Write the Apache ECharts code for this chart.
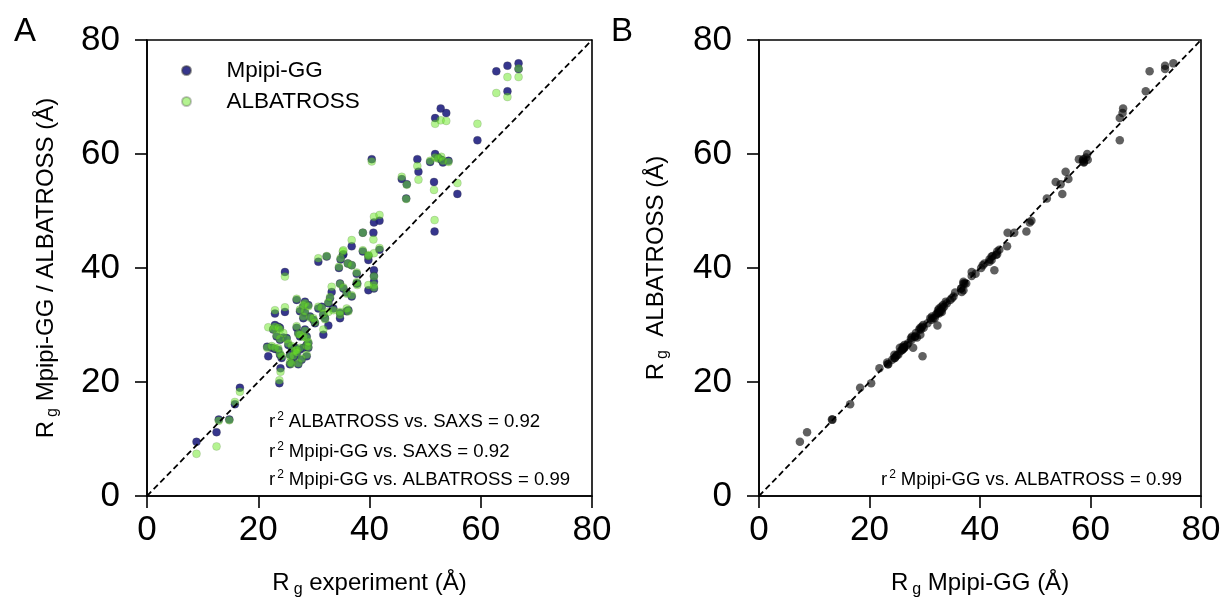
<!DOCTYPE html>
<html><head><meta charset="utf-8">
<script src="https://cdn.jsdelivr.net/npm/echarts@6/dist/echarts.min.js"></script>
<style>html,body{margin:0;padding:0;background:#fff}#c{width:1225px;height:603px}</style>
</head><body><div id="c"></div>
<script>
// ---- data ----
const axisTicks = [0, 20, 40, 60, 80];
const identityLine = [0, 80];
// experimental Rg (x of panel A)
const expRg = [8.9,12.5,12.9,14.8,15.8,16.7,23.8,24.0,21.8,21.6,
22.4,23.0,23.6,22.7,23.0,23.6,23.9,23.3,24.5,25.1,
23.9,23.9,24.2,24.8,23.0,24.8,25.4,26.0,26.6,26.9,
27.5,28.1,28.7,29.0,28.7,25.7,26.3,27.2,25.7,26.9,
27.8,26.0,26.9,27.2,27.5,28.4,28.7,29.0,29.3,29.9,
30.2,28.1,28.4,27.5,26.9,28.4,28.1,29.0,31.7,32.0,
31.7,32.6,32.9,32.6,31.4,30.8,33.5,34.7,35.9,36.2,
34.7,30.8,32.3,35.2,35.3,34.8,36.1,36.8,34.5,37.7,
37.7,39.8,40.8,40.8,40.8,40.8,39.8,33.2,34.7,35.3,
35.9,36.8,37.8,36.8,38.8,38.8,41.8,40.7,40.8,41.8,
39.8,45.8,46.7,46.6,48.6,48.8,40.4,50.9,51.8,52.3,
52.9,53.2,54.2,51.6,55.8,51.7,51.8,52.8,53.8,59.4,
62.8,64.8,64.8,66.8,66.8];
// blue points ("Mpipi-GG" in the legend of panel A)
const mpipiRg = [9.5,11.2,13.4,13.4,16.1,19.0,19.8,22.4,24.5,26.2,
26.0,25.8,25.6,29.2,30.0,29.7,29.5,28.0,27.8,27.7,
27.4,24.8,24.2,32.3,32.0,39.3,26.5,26.0,26.0,25.4,
25.7,26.0,26.5,26.0,24.5,24.8,24.2,23.1,23.1,24.8,
23.9,23.4,29.5,28.6,28.0,29.2,28.0,26.8,31.5,30.9,
30.3,31.2,32.1,32.4,34.4,34.1,33.2,33.5,31.8,31.2,
28.3,29.9,34.7,33.8,33.2,32.9,32.9,31.2,32.4,32.6,
32.1,41.1,42.0,42.3,42.4,41.5,40.8,40.5,40.0,39.0,
37.3,41.4,39.6,38.6,37.6,36.4,36.1,35.8,37.3,36.4,
35.7,35.0,37.3,43.8,46.2,42.9,43.2,46.2,48.0,48.3,
42.1,55.6,54.7,52.2,59.1,56.9,59.1,58.6,60.0,59.4,
59.0,58.5,58.8,55.1,53.0,46.4,66.3,68.0,67.2,62.4,
74.5,71.0,75.5,75.9,74.9];
// green points ("ALBATROSS" in the legend of panel A)
const albatrossRg = [7.4,8.7,13.2,13.3,16.5,18.3,20.3,21.8,29.6,26.0,
26.3,26.0,25.9,29.3,29.7,29.5,29.2,28.2,28.6,27.5,
27.6,25.0,24.5,33.1,32.6,38.5,26.8,26.3,25.5,25.6,
26.0,27.9,26.3,26.2,24.8,24.5,24.6,23.3,23.4,25.2,
24.1,23.2,29.8,28.4,28.3,29.0,27.7,27.0,31.3,31.2,
30.5,31.5,32.4,32.7,34.6,33.8,33.5,33.3,32.0,31.0,
29.2,32.3,34.9,34.0,33.0,33.2,32.6,31.8,32.9,32.4,
32.3,41.7,42.1,42.9,43.1,41.7,40.8,40.5,40.2,39.2,
37.5,42.1,42.6,38.5,37.0,36.6,37.0,36.7,37.2,36.6,
35.5,35.2,37.0,44.9,46.2,43.1,43.5,45.0,49.0,49.3,
42.3,56.0,54.6,52.1,57.9,55.5,58.7,58.8,59.4,59.2,
59.5,58.8,58.6,53.7,54.9,48.4,65.3,65.9,65.8,65.3,
70.7,70.0,73.5,75.0,73.5];
const r2Labels = ['ALBATROSS vs. SAXS = 0.92', 'Mpipi-GG vs. SAXS = 0.92', 'Mpipi-GG vs. ALBATROSS = 0.99'];

// ---- build series data ----
const blueA = expRg.map((x, i) => [x, mpipiRg[i]]);
const greenA = expRg.map((x, i) => [x, albatrossRg[i]]);
// in the reference's panel B the points sit at (green value, blue value)
const pairsB = expRg.map((_, i) => [albatrossRg[i], mpipiRg[i]]);
const diag = identityLine.map(v => [v, v]);

const FONT = '"Liberation Sans", Arial, sans-serif';
const subRich = { sub: { fontSize: 16, fontFamily: FONT, color: '#000', padding: [14, 0, 0, 4] } };

function xAx(idx, name) {
  return {
    gridIndex: idx, type: 'value', min: axisTicks[0], max: axisTicks[axisTicks.length - 1], interval: 20,
    splitLine: { show: false },
    axisLine: { onZero: false, lineStyle: { color: '#000', width: 1.6 } },
    axisTick: { length: 12, lineStyle: { color: '#000', width: 1.6 } },
    axisLabel: { fontSize: 35, color: '#000', fontFamily: FONT, margin: 17 },
    name: name, nameLocation: 'middle', nameGap: 72,
    nameTextStyle: { fontSize: 24, color: '#000', fontFamily: FONT, rich: subRich }
  };
}
function yAx(idx, name, gap) {
  return {
    gridIndex: idx, type: 'value', min: axisTicks[0], max: axisTicks[axisTicks.length - 1], interval: 20,
    splitLine: { show: false },
    axisLine: { onZero: false, lineStyle: { color: '#000', width: 1.6 } },
    axisTick: { length: 12, lineStyle: { color: '#000', width: 1.6 } },
    axisLabel: { fontSize: 35, color: '#000', fontFamily: FONT, margin: 27 },
    name: name, nameLocation: 'middle', nameGap: gap, nameRotate: 90,
    nameTextStyle: { fontSize: 24, color: '#000', fontFamily: FONT, rich: subRich }
  };
}

const supRich = { sup: { fontSize: 12, fontFamily: FONT, fill: '#000', padding: [0, 5, 10, 2] } };
function annot(x, y, txt) {
  return { type: 'text', left: x, top: y, z: 100,
    style: { text: 'r{sup|2}' + txt, fontSize: 18.6, fontFamily: FONT, fill: '#000', rich: supRich } };
}

const chart = echarts.init(document.getElementById('c'), null, { renderer: 'canvas' });
chart.setOption({
  animation: false,
  backgroundColor: '#fff',
  grid: [
    { left: 147, top: 40, width: 445, height: 459, show: true, borderColor: '#000', borderWidth: 1.6 },
    { left: 759, top: 40, width: 442, height: 459, show: true, borderColor: '#000', borderWidth: 1.6 }
  ],
  xAxis: [xAx(0, 'R{sub|g} experiment (Å)'), xAx(1, 'R{sub|g} Mpipi-GG (Å)')],
  yAxis: [yAx(0, 'R{sub|g} Mpipi-GG / ALBATROSS (Å)', 86), yAx(1, 'R{sub|g}  ALBATROSS (Å)', 88)],
  legend: {
    data: ['Mpipi-GG', 'ALBATROSS'], orient: 'vertical', left: 176, top: 54,
    itemWidth: 70, itemHeight: 9, itemGap: 8, icon: 'circle',
    textStyle: { fontSize: 22.5, color: '#000', fontFamily: FONT }
  },
  series: [
    { name: 'Mpipi-GG', type: 'scatter', xAxisIndex: 0, yAxisIndex: 0, data: blueA, symbolSize: 8,
      itemStyle: { color: 'rgb(26,26,125)', opacity: 0.88, borderColor: 'rgba(60,60,60,0.6)', borderWidth: 0.5 } },
    { name: 'ALBATROSS', type: 'scatter', xAxisIndex: 0, yAxisIndex: 0, data: greenA, symbolSize: 8,
      itemStyle: { color: 'rgb(105,232,35)', opacity: 0.5, borderColor: 'rgba(60,60,60,0.6)', borderWidth: 0.5 } },
    { name: 'diagA', type: 'line', xAxisIndex: 0, yAxisIndex: 0, data: diag, symbol: 'none', silent: true, z: 5,
      lineStyle: { color: '#000', width: 1.8, type: [6, 3.5] } },
    { name: 'B', type: 'scatter', xAxisIndex: 1, yAxisIndex: 1, data: pairsB, symbolSize: 8.5,
      itemStyle: { color: 'rgba(0,0,0,0.78)' } },
    { name: 'diagB', type: 'line', xAxisIndex: 1, yAxisIndex: 1, data: diag, symbol: 'none', silent: true, z: 5,
      lineStyle: { color: '#000', width: 1.8, type: [6, 3.5] } }
  ],
  graphic: [
    { type: 'text', left: 14, top: 15, style: { text: 'A', fontSize: 33, fontFamily: FONT, fill: '#000' } },
    { type: 'text', left: 611, top: 15, style: { text: 'B', fontSize: 33, fontFamily: FONT, fill: '#000' } },
    annot(269, 411, r2Labels[0]),
    annot(269, 441, r2Labels[1]),
    annot(269, 469, r2Labels[2]),
    annot(881, 469, r2Labels[2])
  ]
});
</script></body></html>
